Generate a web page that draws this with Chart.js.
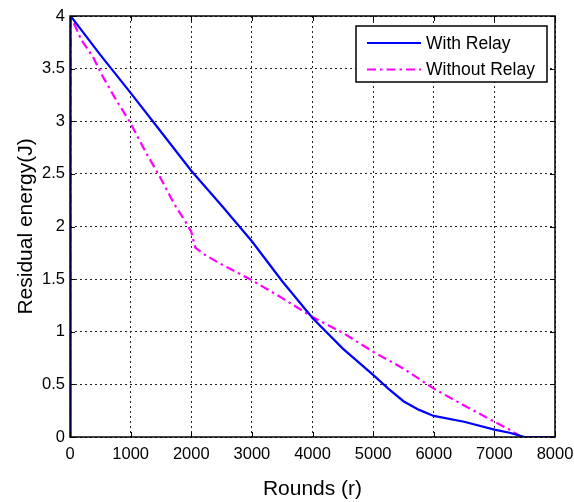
<!DOCTYPE html>
<html>
<head>
<meta charset="utf-8">
<script src="https://cdn.jsdelivr.net/npm/chart.js@4"></script>
<style>
  html, body { margin: 0; padding: 0; background: #fff; }
  #wrap { width: 574px; height: 502px; }
</style>
</head>
<body>
<div id="wrap"><canvas id="energyChart" width="574" height="502"></canvas></div>
<script>
// Residual energy vs rounds
const relayRounds = [0, 10, 500, 1000, 1500, 2000, 2500, 3000, 3500, 4000, 4500, 5000, 5250, 5500, 5750, 6000, 6500, 7000, 7250, 7500, 8000];
const relayEnergy = [0, 4, 3.63, 3.27, 2.9, 2.53, 2.2, 1.86, 1.48, 1.13, 0.84, 0.59, 0.46, 0.34, 0.26, 0.2, 0.145, 0.07, 0.04, 0, 0];

const noRelayRounds = [0, 10, 190, 380, 545, 743, 1000, 1265, 1485, 1733, 1900, 2000, 2066, 2200, 2500, 3000, 3500, 4000, 4500, 5000, 5500, 6000, 6500, 7000, 7250, 7450, 8000];
const noRelayEnergy = [0, 4, 3.77, 3.61, 3.42, 3.22, 2.98, 2.69, 2.47, 2.2, 2.05, 1.95, 1.8, 1.74, 1.64, 1.49, 1.32, 1.14, 0.99, 0.81, 0.65, 0.46, 0.3, 0.145, 0.07, 0, 0];

const xTicks = [0, 1000, 2000, 3000, 4000, 5000, 6000, 7000, 8000];
const yTicks = [0, 0.5, 1, 1.5, 2, 2.5, 3, 3.5, 4];

const FONT = "'Liberation Sans', Arial, sans-serif";
const toPoints = (xs, ys) => xs.map((x, i) => ({ x: x, y: ys[i] }));

// box round the axes + inner tick marks, like the original plot
const frame = {
    id: "frame",
    afterDraw(chart) {
        const { ctx, chartArea: a, scales } = chart;
        ctx.save();
        ctx.strokeStyle = "#000";
        ctx.lineWidth = 1;
        ctx.beginPath();
        xTicks.forEach(v => {
            const px = Math.round(scales.x.getPixelForValue(v)) + 0.5;
            ctx.moveTo(px, a.bottom); ctx.lineTo(px, a.bottom - 5);
            ctx.moveTo(px, a.top); ctx.lineTo(px, a.top + 5);
        });
        yTicks.forEach(v => {
            const py = Math.round(scales.y.getPixelForValue(v)) + 0.5;
            ctx.moveTo(a.left, py); ctx.lineTo(a.left + 5, py);
            ctx.moveTo(a.right, py); ctx.lineTo(a.right - 5, py);
        });
        ctx.stroke();
        ctx.lineWidth = 1.5;
        ctx.strokeRect(a.left, a.top, a.right - a.left, a.bottom - a.top);
        ctx.restore();
    }
};

// legend drawn inside the plot, top right
const boxLegend = {
    id: "boxLegend",
    afterDraw(chart) {
        const ctx = chart.ctx;
        const x0 = 356, y0 = 26, w = 191, h = 56;
        ctx.save();
        ctx.fillStyle = "#fff";
        ctx.fillRect(x0, y0, w, h);
        ctx.strokeStyle = "#000";
        ctx.lineWidth = 1.5;
        ctx.strokeRect(x0, y0, w, h);
        ctx.font = "17.5px " + FONT;
        ctx.textBaseline = "middle";
        chart.data.datasets.forEach((ds, i) => {
            const cy = y0 + 17 + i * 26.5;
            ctx.strokeStyle = ds.borderColor;
            ctx.lineWidth = ds.borderWidth;
            ctx.setLineDash(ds.borderDash || []);
            ctx.beginPath();
            ctx.moveTo(x0 + 11, cy);
            ctx.lineTo(x0 + 65, cy);
            ctx.stroke();
            ctx.setLineDash([]);
            ctx.fillStyle = "#000";
            ctx.fillText(ds.label, x0 + 70, cy + 1);
        });
        ctx.restore();
    }
};

const ctx = document.getElementById("energyChart").getContext("2d");
new Chart(ctx, {
    type: "line",
    data: {
        datasets: [
            {
                label: "With Relay",
                data: toPoints(relayRounds, relayEnergy),
                borderColor: "#0000ff",
                borderWidth: 2.2,
                pointRadius: 0,
                tension: 0,
            },
            {
                label: "Without Relay",
                data: toPoints(noRelayRounds, noRelayEnergy),
                borderColor: "#ff00ff",
                borderWidth: 2.2,
                borderDash: [9, 4, 2.5, 4],
                pointRadius: 0,
                tension: 0,
            },
        ],
    },
    options: {
        responsive: false,
        animation: false,
        layout: { padding: { top: 16, right: 19, left: 0, bottom: 0 } },
        plugins: {
            legend: { display: false },
            tooltip: { enabled: false },
        },
        scales: {
            x: {
                type: "linear",
                min: 0,
                max: 8000,
                afterFit: (s) => { s.height = 65; s.paddingLeft = 0; s.paddingRight = 0; },
                afterBuildTicks: (s) => { s.ticks = xTicks.map(v => ({ value: v })); },
                ticks: {
                    color: "#000",
                    font: { family: FONT, size: 16.5 },
                    padding: 8,
                    maxRotation: 0,
                    callback: (v) => String(v),
                },
                grid: { color: "#222", drawTicks: false },
                border: { display: false, dash: [2, 3] },
                title: {
                    display: true,
                    text: "Rounds (r)",
                    color: "#000",
                    font: { family: FONT, size: 21 },
                    padding: { top: 0, bottom: 0 },
                },
            },
            y: {
                min: 0,
                max: 4,
                afterFit: (s) => { s.width = 70; s.paddingTop = 0; s.paddingBottom = 0; },
                afterBuildTicks: (s) => { s.ticks = yTicks.map(v => ({ value: v })); },
                ticks: {
                    color: "#000",
                    font: { family: FONT, size: 16.5 },
                    padding: 5,
                    callback: (v) => String(v),
                },
                grid: { color: "#222", drawTicks: false },
                border: { display: false, dash: [2, 3] },
                title: {
                    display: true,
                    text: "Residual energy(J)",
                    color: "#000",
                    font: { family: FONT, size: 21 },
                    padding: { top: 14, bottom: 0 },
                },
            },
        },
    },
    plugins: [frame, boxLegend],
});
</script>
</body>
</html>
